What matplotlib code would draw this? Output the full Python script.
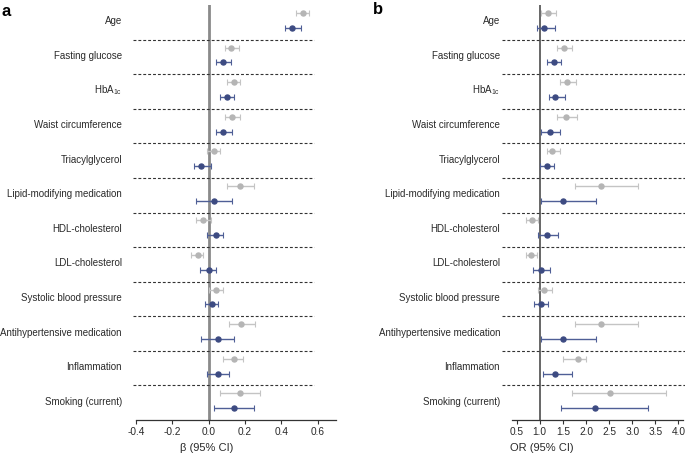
"""
Forest plots: beta (95% CI) and OR (95% CI) per risk factor, two cohorts.
"""

import numpy as np
import matplotlib
matplotlib.use('Agg')
import matplotlib.pyplot as plt
import matplotlib.transforms as mtransforms

plt.rcParams['font.family'] = ['Liberation Sans', 'DejaVu Sans']
plt.rcParams['mathtext.fontset'] = 'custom'
plt.rcParams['mathtext.rm'] = 'Liberation Sans'

labels = ['Age', 'Fasting glucose', r'HbA$_{\rm 1c}$', 'Waist circumference',
          'Triacylglycerol', 'Lipid-modifying medication', 'HDL-cholesterol',
          'LDL-cholesterol', 'Systolic blood pressure',
          'Antihypertensive medication', 'Inflammation', 'Smoking (current)']

# panel a: beta estimates
beta_grey    = [0.52, 0.12, 0.14, 0.13, 0.03, 0.17, -0.03, -0.06, 0.04, 0.18, 0.14, 0.17]
beta_grey_lo = [0.48, 0.09, 0.10, 0.09, -0.01, 0.10, -0.07, -0.10, 0.00, 0.11, 0.08, 0.06]
beta_grey_hi = [0.55, 0.165, 0.17, 0.17, 0.06, 0.25, 0.01, -0.03, 0.08, 0.255, 0.19, 0.28]
beta_blue    = [0.46, 0.08, 0.10, 0.08, -0.04, 0.03, 0.04, 0.00, 0.02, 0.05, 0.05, 0.14]
beta_blue_lo = [0.42, 0.04, 0.06, 0.04, -0.08, -0.07, -0.01, -0.05, -0.02, -0.04, -0.01, 0.03]
beta_blue_hi = [0.51, 0.12, 0.14, 0.13, 0.01, 0.13, 0.08, 0.04, 0.05, 0.14, 0.11, 0.25]

# panel b: odds ratios
or_grey    = [1.17, 1.53, 1.60, 1.57, 1.27, 2.33, 0.83, 0.81, 1.09, 2.33, 1.82, 2.52]
or_grey_lo = [1.02, 1.37, 1.44, 1.37, 1.15, 1.76, 0.70, 0.70, 0.96, 1.76, 1.50, 1.70]
or_grey_hi = [1.35, 1.69, 1.79, 1.80, 1.43, 3.13, 0.96, 0.94, 1.26, 3.13, 2.01, 3.74]
or_blue    = [1.10, 1.31, 1.34, 1.22, 1.15, 1.50, 1.15, 1.03, 1.02, 1.50, 1.34, 2.19]
or_blue_lo = [0.93, 1.15, 1.19, 1.03, 1.01, 1.02, 0.96, 0.86, 0.88, 1.02, 1.07, 1.45]
or_blue_hi = [1.32, 1.47, 1.54, 1.43, 1.30, 2.22, 1.40, 1.23, 1.18, 2.22, 1.69, 3.34]

GREY = '#b5b5b5'
BLUE = '#3d4b82'
TXT = '#2a2a2a'


def forest(ax, est_g, lo_g, hi_g, est_b, lo_b, hi_b, ref, ref_color, ref_lw,
           dash_x0, dash_x1):
    n = len(labels)
    rows = np.arange(n)
    est_g, lo_g, hi_g = map(np.asarray, (est_g, lo_g, hi_g))
    est_b, lo_b, hi_b = map(np.asarray, (est_b, lo_b, hi_b))

    ax.axvline(ref, color=ref_color, lw=ref_lw, zorder=1)

    ax.errorbar(est_g, rows + 0.23, xerr=[est_g - lo_g, hi_g - est_g],
                fmt='o', color=GREY, ecolor='#c4c4c4', ms=3.6, elinewidth=1.0,
                capsize=2.0, capthick=0.8, zorder=3)
    ax.errorbar(est_b, rows + 0.66, xerr=[est_b - lo_b, hi_b - est_b],
                fmt='o', color=BLUE, ecolor='#4f5f96', ms=3.6, elinewidth=1.0,
                capsize=2.0, capthick=0.8, zorder=3)

    trans = mtransforms.blended_transform_factory(ax.transAxes, ax.transData)
    for k in range(1, n):
        ax.plot([dash_x0, dash_x1], [k, k], transform=trans, clip_on=False,
                color='#333333', lw=0.8, ls=(0, (2.6, 1.8)), zorder=2)

    for k, lab in enumerate(labels):
        ax.text(-0.07, k + 0.47, lab, transform=trans, ha='right',
                va='center', fontsize=7.0, color=TXT)

    ax.set_ylim(n, 0)
    ax.set_yticks([])
    for s in ('left', 'right', 'top'):
        ax.spines[s].set_visible(False)
    ax.spines['bottom'].set_color('#333333')
    ax.spines['bottom'].set_linewidth(0.9)
    ax.tick_params(axis='x', labelsize=7.3, length=3, width=0.8,
                   colors='#333333', labelcolor=TXT, pad=2)


fig = plt.figure(figsize=(6.85, 4.54), dpi=100)
ax_a = fig.add_axes([0.1985, 0.0749, 0.292, 0.914])
ax_b = fig.add_axes([0.7475, 0.0749, 0.2496, 0.914])

forest(ax_a, beta_grey, beta_grey_lo, beta_grey_hi,
       beta_blue, beta_blue_lo, beta_blue_hi,
       ref=0.0, ref_color='#8a8a8a', ref_lw=2.0, dash_x0=-0.015, dash_x1=0.89)
ax_a.set_xlim(-0.4, 0.7)
ax_a.set_xticks([-0.4, -0.2, 0.0, 0.2, 0.4, 0.6])
ax_a.set_xticklabels(['-0.4', '-0.2', '0.0', '0.2', '0.4', '0.6'])
ax_a.set_xlabel('β (95% CI)', fontsize=8, color=TXT)
ax_a.xaxis.set_label_coords(0.355, -0.055)

forest(ax_b, or_grey, or_grey_lo, or_grey_hi,
       or_blue, or_blue_lo, or_blue_hi,
       ref=1.0, ref_color='#666666', ref_lw=1.4, dash_x0=-0.058, dash_x1=1.01)
ax_b.set_xlim(0.4, 4.1)
ax_b.set_xticks([0.5, 1.0, 1.5, 2.0, 2.5, 3.0, 3.5, 4.0])
ax_b.set_xlabel('OR (95% CI)', fontsize=8, color=TXT)
ax_b.xaxis.set_label_coords(0.175, -0.055)

fig.text(0.002, 0.975, 'a', fontsize=12, fontweight='bold', va='center')
fig.text(0.545, 0.978, 'b', fontsize=12, fontweight='bold', va='center')

fig.savefig('out.png', dpi=100)
